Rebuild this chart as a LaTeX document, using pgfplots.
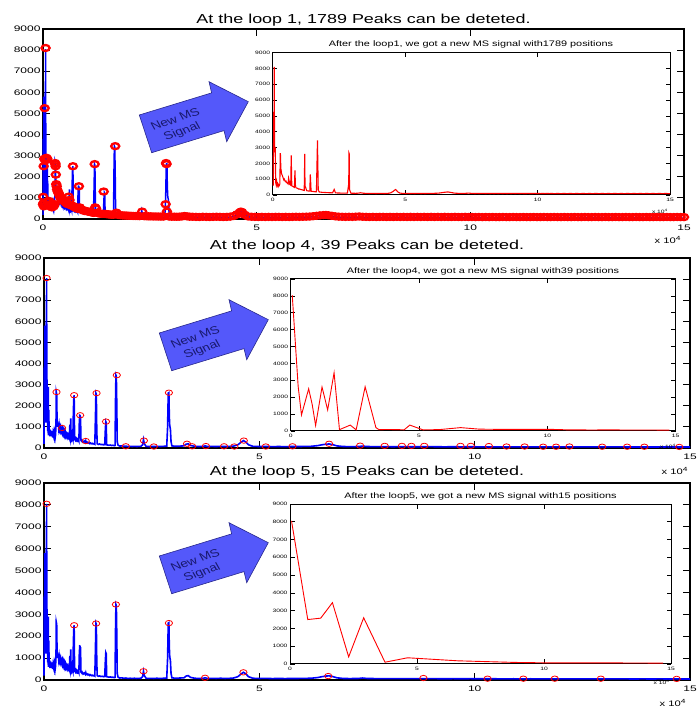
\documentclass[border=0pt]{standalone}
\usepackage{pgfplots}
\pgfplotsset{compat=1.18}
\usepackage{pgfplotstable}
\usepackage{fontspec}
\setmainfont{Liberation Sans}

\definecolor{arrowfill}{RGB}{84,88,250}
\definecolor{arrowedge}{RGB}{40,40,140}
\definecolor{arrowtext}{RGB}{25,25,110}

% MS spectrum (m/z in units of 10^4, intensity)
\pgfplotstableread{
x y
0.000 200
0.005 3800
0.010 1500
0.015 5800
0.020 2000
0.025 4500
0.030 1200
0.035 3000
0.040 5300
0.045 2000
0.050 6000
0.055 3000
0.060 8050
0.065 4000
0.070 2900
0.075 1200
0.080 2800
0.085 800
0.090 2850
0.095 700
0.100 2900
0.105 600
0.110 1800
0.120 700
0.130 900
0.140 550
0.150 850
0.160 600
0.170 800
0.180 550
0.190 750
0.200 500
0.210 700
0.220 600
0.230 750
0.240 550
0.250 700
0.260 500
0.270 650
0.280 1400
0.285 2650
0.290 2600
0.295 2500
0.300 1800
0.305 1100
0.310 1250
0.320 1000
0.330 1200
0.340 950
0.350 1100
0.360 900
0.370 1000
0.380 850
0.390 950
0.400 800
0.410 900
0.420 950
0.430 750
0.440 850
0.450 700
0.460 800
0.470 650
0.480 750
0.490 600
0.500 700
0.510 580
0.520 650
0.530 550
0.540 620
0.550 520
0.560 600
0.570 500
0.580 550
0.590 480
0.600 1100
0.610 500
0.620 1400
0.630 450
0.640 550
0.650 430
0.660 500
0.670 420
0.680 1500
0.690 2300
0.700 2500
0.705 1500
0.710 450
0.720 480
0.730 400
0.740 450
0.750 380
0.760 420
0.770 360
0.780 400
0.790 350
0.800 380
0.810 330
0.820 1200
0.830 1550
0.840 1540
0.845 800
0.850 1500
0.855 400
0.860 350
0.870 330
0.880 360
0.890 300
0.900 330
0.920 280
0.940 320
0.960 260
0.970 330
0.980 250
1.000 280
1.020 230
1.040 260
1.060 210
1.080 240
1.100 200
1.120 220
1.140 190
1.160 210
1.180 180
1.195 1500
1.205 2600
1.215 2550
1.225 900
1.235 200
1.260 170
1.290 190
1.320 160
1.350 170
1.380 150
1.410 160
1.425 900
1.435 1250
1.445 1200
1.455 150
1.480 140
1.510 130
1.540 140
1.570 120
1.600 130
1.630 110
1.650 120
1.660 2200
1.670 3450
1.680 3400
1.690 2100
1.700 300
1.720 130
1.760 90
1.800 100
1.850 80
1.900 90
1.950 70
2.000 80
2.050 70
2.100 80
2.150 70
2.200 75
2.250 80
2.290 150
2.310 400
2.330 200
2.370 80
2.420 70
2.480 75
2.550 70
2.620 80
2.700 70
2.780 80
2.850 90
2.870 1000
2.885 2600
2.900 2620
2.910 1500
2.920 1050
2.935 900
2.950 300
2.970 100
3.050 80
3.150 90
3.250 100
3.300 180
3.350 200
3.400 120
3.500 80
3.600 70
3.700 80
3.740 100
3.800 70
3.900 75
4.000 70
4.100 80
4.200 70
4.300 75
4.400 90
4.500 150
4.580 280
4.630 350
4.680 290
4.750 150
4.850 80
5.000 70
5.150 75
5.300 65
5.450 70
5.600 65
5.750 70
5.900 70
6.050 75
6.200 80
6.350 110
6.450 150
6.550 180
6.620 190
6.700 160
6.800 100
6.950 70
7.100 65
7.300 70
7.400 90
7.500 70
7.700 65
7.900 65
8.100 60
8.300 65
8.500 60
8.700 60
8.900 65
9.100 60
9.300 55
9.500 60
9.700 55
9.900 60
10.100 55
10.300 55
10.500 55
10.700 50
10.900 55
11.100 50
11.300 55
11.500 50
11.700 50
11.900 55
12.100 50
12.300 50
12.500 50
12.700 50
12.900 50
13.100 50
13.300 50
13.500 50
13.700 45
13.900 50
14.100 45
14.300 50
14.500 45
14.700 50
14.900 45
15.000 45
}\spectrum

% peak positions found at loop 1 (the new MS signal)
\pgfplotstableread{
x y
0.000 700
0.005 1050
0.010 750
0.015 2500
0.020 600
0.030 2850
0.040 5250
0.050 2800
0.060 8100
0.070 2850
0.080 2900
0.090 2800
0.100 2850
0.110 800
0.130 650
0.150 850
0.170 600
0.190 700
0.210 550
0.230 650
0.250 600
0.270 700
0.285 2650
0.290 2600
0.295 2500
0.300 2100
0.310 1650
0.320 1550
0.330 1400
0.345 1300
0.360 1250
0.380 1150
0.400 1050
0.420 950
0.440 1000
0.460 900
0.480 850
0.500 880
0.520 800
0.540 760
0.560 740
0.580 700
0.600 1060
0.620 900
0.640 680
0.660 650
0.680 620
0.700 2500
0.720 600
0.740 560
0.760 540
0.780 520
0.800 500
0.820 480
0.840 1550
0.860 550
0.880 460
0.900 440
0.940 420
0.970 380
1.000 380
1.040 360
1.080 340
1.120 320
1.160 300
1.190 290
1.210 2600
1.220 550
1.240 500
1.280 280
1.320 260
1.360 250
1.400 245
1.420 1300
1.450 240
1.490 230
1.530 220
1.570 210
1.610 205
1.650 200
1.690 3450
1.720 300
1.760 190
1.810 180
1.860 170
1.910 165
1.960 160
2.010 155
2.060 150
2.110 145
2.160 140
2.210 140
2.260 135
2.320 350
2.370 135
2.420 130
2.470 125
2.520 125
2.580 120
2.640 120
2.700 115
2.760 115
2.820 115
2.870 700
2.880 2650
2.890 2600
2.900 350
2.950 115
3.010 110
3.070 110
3.130 105
3.190 110
3.250 120
3.310 140
3.370 125
3.430 110
3.500 105
3.580 100
3.660 95
3.740 105
3.820 100
3.900 95
3.980 100
4.060 105
4.140 100
4.220 95
4.300 100
4.380 110
4.460 140
4.540 220
4.600 300
4.630 350
4.660 320
4.720 200
4.800 120
4.880 105
4.960 100
5.040 95
5.120 100
5.200 95
5.280 100
5.360 95
5.440 100
5.520 100
5.600 95
5.680 100
5.760 95
5.840 100
5.920 105
6.000 100
6.080 105
6.160 110
6.240 115
6.320 130
6.400 150
6.480 170
6.560 185
6.620 190
6.680 175
6.760 150
6.840 125
6.920 110
7.000 105
7.080 100
7.160 105
7.240 100
7.320 110
7.400 120
7.480 105
7.560 100
7.640 95
7.720 100
7.800 95
7.880 100
7.960 100
8.040 95
8.120 100
8.200 95
8.280 100
8.360 95
8.440 100
8.520 95
8.600 100
8.680 95
8.760 100
8.840 95
8.920 100
9.000 95
9.080 100
9.160 95
9.240 100
9.320 95
9.400 100
9.480 95
9.560 95
9.640 100
9.720 95
9.800 95
9.880 100
9.960 95
10.04 95
10.12 90
10.20 95
10.28 90
10.36 95
10.44 90
10.52 95
10.60 90
10.68 90
10.76 95
10.84 90
10.92 90
11.00 95
11.08 90
11.16 90
11.24 95
11.32 90
11.40 90
11.48 95
11.56 90
11.64 90
11.72 95
11.80 90
11.88 90
11.96 95
12.04 90
12.12 90
12.20 95
12.28 90
12.36 90
12.44 95
12.52 90
12.60 90
12.68 95
12.76 90
12.84 90
12.92 95
13.00 90
13.08 90
13.16 95
13.24 90
13.32 90
13.40 95
13.48 90
13.56 90
13.64 95
13.72 90
13.80 90
13.88 95
13.96 90
14.04 90
14.12 95
14.20 90
14.28 90
14.36 95
14.44 90
14.52 90
14.60 95
14.68 90
14.76 90
14.84 95
14.92 90
15.00 90
}\peaksA

% peak positions found at loop 4 (39 peaks)
\pgfplotstableread{
x y
0.06 8050
0.29 2650
0.42 950
0.70 2500
0.84 1550
0.97 330
1.22 2600
1.44 1250
1.69 3450
1.90 80
2.32 350
2.55 70
2.90 2620
3.32 200
3.44 80
3.76 90
4.18 80
4.42 70
4.64 350
5.15 70
5.77 80
6.62 200
7.34 110
7.91 100
8.31 100
8.53 100
8.83 100
9.67 100
9.91 100
10.33 90
10.74 70
11.16 70
11.59 60
11.89 60
12.20 70
12.96 60
13.54 60
13.94 60
14.75 50
}\peaksD

% peak positions found at loop 5 (15 peaks)
\pgfplotstableread{
x y
0.06 8050
0.70 2500
1.21 2580
1.67 3450
2.31 400
2.90 2600
3.74 100
4.63 350
6.60 180
8.81 90
10.30 60
11.13 60
11.86 60
12.93 60
14.69 50
}\peaksE

\pgfplotsset{
  mainax/.style={
    scale only axis, anchor=south west, clip=false,
    xmin=0, xmax=15, ymin=0, ymax=9000,
    xtick={0,5,10,15}, ytick={0,1000,...,9000},
    scaled ticks=false,
    tick align=inside, major tick length=7pt,
    axis line style={line width=1.1pt},
    tick style={black, line width=0.8pt},
    /pgf/number format/assume math mode=true,
    /pgf/number format/1000 sep={},
    tick label style={font=\fontsize{8}{9}\selectfont, xscale=1.5},
    yticklabel style={anchor=east, inner xsep=1.5pt},
    xticklabel style={anchor=base, yshift=-12pt},
  },
  insetax/.style={
    scale only axis, anchor=south west,
    xmin=0, xmax=15, ymin=0, ymax=9000,
    xtick={0,5,10,15}, ytick={0,1000,...,9000},
    scaled ticks=false,
    tick align=inside, major tick length=4.5pt,
    axis line style={line width=1pt},
    tick style={black, line width=0.6pt},
    axis background/.style={fill=white},
    /pgf/number format/assume math mode=true,
    /pgf/number format/1000 sep={},
    tick label style={font=\fontsize{4.8}{5}\selectfont, xscale=1.4},
    yticklabel style={anchor=east, inner xsep=1.6pt},
    xticklabel style={anchor=base, yshift=-6.7pt},
  },
  peakmarks/.style 2 args={red, only marks, mark=o, mark size=#1,
    mark options={xscale=1.35, line width=#2}},
}

\newcommand{\msarrow}[2]{%
  \begin{scope}[shift={(#1,#2)}]
    \draw[fill=arrowfill, draw=arrowedge, line width=0.6pt, line join=miter]
      (139.3,593) -- (211.6,615.1) -- (209,626.3) -- (248.3,606.3)
      -- (226.7,566.3) -- (224,577.4) -- (151.7,555.3) -- cycle;
    \node[text=arrowtext, font=\fontsize{11}{13}\selectfont, align=center,
      xscale=1.25, rotate=24] at (179,582) {New MS\\Signal};
  \end{scope}}

\newcommand{\maintitle}[3]{\node[anchor=base, font=\fontsize{13}{14}\selectfont, xscale=1.38] at (#1,#2) {#3};}
\newcommand{\insettitle}[3]{\node[anchor=base, font=\fontsize{8}{9}\selectfont, xscale=1.36] at (#1,#2) {#3};}
\newcommand{\mainexp}[2]{\node[anchor=base, font=\fontsize{8}{9}\selectfont, xscale=1.4] at (#1,#2) {x 10\textsuperscript{4}};}
\newcommand{\insetexp}[2]{\node[anchor=base, font=\fontsize{4.8}{5}\selectfont, xscale=1.4] at (#1,#2) {x 10\textsuperscript{4}};}

\begin{document}
\begin{tikzpicture}[x=1pt, y=1pt]
\useasboundingbox (0,0) rectangle (696,708);

% ---------------- loop 1 ----------------
\begin{axis}[mainax, at={(43pt,489pt)}, width=641pt, height=190pt]
  \addplot[blue, line width=1.5pt] table {\spectrum};
  \addplot[peakmarks={3pt}{2.3pt}] table {\peaksA};
\end{axis}
\maintitle{363.5}{684.7}{At the loop 1, 1789 Peaks can be deteted.}
\mainexp{668}{464.7}
\msarrow{0}{0}
\begin{axis}[insetax, at={(272.7pt,513pt)}, width=397.3pt, height=142.3pt]
  \addplot[red, line width=1.1pt] table {\peaksA};
\end{axis}
\insettitle{471}{661.3}{After the loop1, we got a new MS signal with1789 positions}
\insetexp{660}{494.7}

% ---------------- loop 4 ----------------
\begin{axis}[mainax, at={(44pt,260pt)}, width=646pt, height=190pt]
  \addplot[blue, line width=1.6pt] table {\spectrum};
  \addplot[peakmarks={2.7pt}{0.8pt}] table {\peaksD};
\end{axis}
\maintitle{367}{458.7}{At the loop 4, 39 Peaks can be deteted.}
\mainexp{675}{233.7}
\msarrow{20}{-218}
\begin{axis}[insetax, at={(290.7pt,277pt)}, width=385pt, height=152pt]
  \addplot[red, line width=0.9pt] table {\peaksD};
\end{axis}
\insettitle{483}{434.7}{After the loop4, we got a new MS signal with39 positions}
\insetexp{668}{259.7}

% ---------------- loop 5 ----------------
\begin{axis}[mainax, at={(44pt,28pt)}, width=646pt, height=197pt]
  \addplot[blue, line width=1.6pt] table {\spectrum};
  \addplot[peakmarks={2.7pt}{0.8pt}] table {\peaksE};
\end{axis}
\maintitle{367}{232}{At the loop 5, 15 Peaks can be deteted.}
\mainexp{673}{1.5}
\msarrow{20}{-441}
\begin{axis}[insetax, at={(290pt,44pt)}, width=381pt, height=160pt]
  \addplot[red, line width=0.9pt] table {\peaksE};
\end{axis}
\insettitle{480.5}{209.7}{After the loop5, we got a new MS signal with15 positions}
\insetexp{661.7}{23}
\end{tikzpicture}
\end{document}
